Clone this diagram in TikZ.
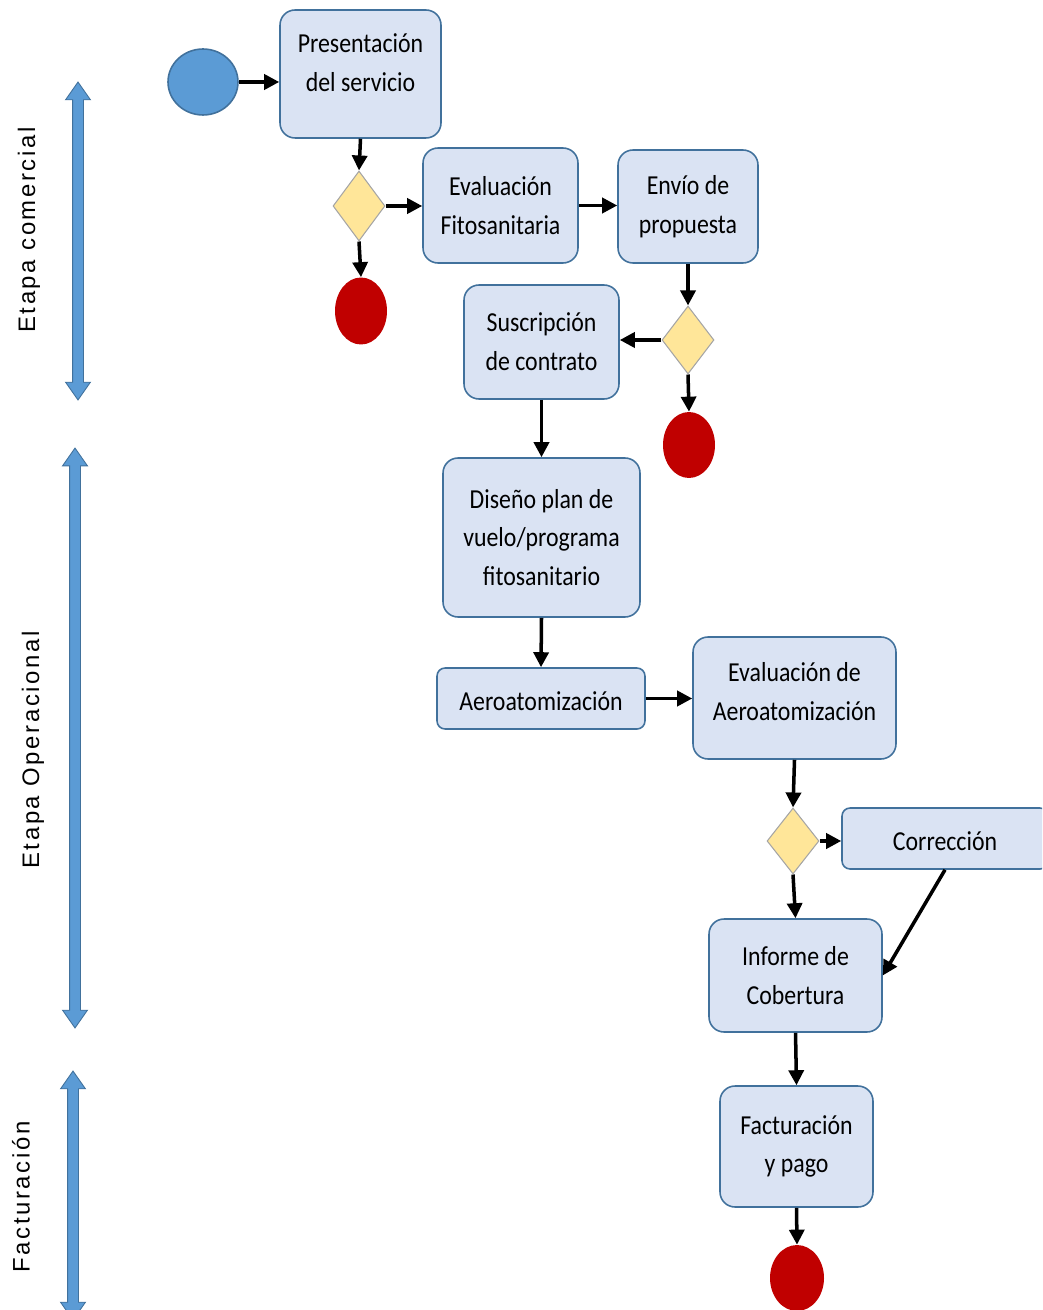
\documentclass[tikz,border=0pt]{standalone}
\usepackage{fontspec}
\setmainfont{Carlito}
\newfontfamily\boxfont[FakeStretch=0.87]{Carlito}
\newfontfamily\phasefont[LetterSpace=11]{Liberation Sans}
\usetikzlibrary{arrows.meta, shapes.geometric, shapes.arrows}

\definecolor{boxfill}{HTML}{DAE3F3}
\definecolor{boxline}{HTML}{41719C}
\definecolor{startblue}{HTML}{5B9BD5}
\definecolor{decfill}{HTML}{FFE699}
\definecolor{decline}{HTML}{A5A5A5}
\definecolor{stopred}{HTML}{C00000}

\begin{document}
\begin{tikzpicture}[
  x=0.02cm, y=-0.02cm,
  task/.style={draw=boxline, fill=boxfill, line width=0.9pt, rounded corners=0.3cm,
               font=\boxfont\fontsize{15.6}{22}\selectfont, align=center, inner sep=0pt},
  flat/.style={task, rounded corners=0.16cm},
  decision/.style={diamond, draw=decline, fill=decfill, line width=0.6pt, inner sep=0pt,
                   minimum width=1.04cm, minimum height=1.36cm},
  endnode/.style={ellipse, fill=stopred, inner sep=0pt, minimum width=1.04cm, minimum height=1.34cm},
  arr/.style={-{Triangle[length=0.3cm, width=0.3cm]}, line width=2pt},
  phase/.style={double arrow, fill=startblue, draw=boxline, line width=0.5pt, rotate=90,
                minimum width=0.48cm, double arrow head extend=0.14cm,
                double arrow tip angle=70, inner sep=0.1cm},
  phaselbl/.style={rotate=90, font=\phasefont\fontsize{13.6}{16}\selectfont}
]
\useasboundingbox (0,0) rectangle (1042,1310);
\clip (0,0) rectangle (1042,1310);

%
%  Layout (pixel grid, y downwards):
%
%  left  : three phase arrows with their labels
%  right : flow from the start circle down to the last end circle
%

% --- Phases ---
\node[phase, minimum height=6.36cm] (ph_com) at (78, 241) {};
\node[phaselbl] (lbl_com) at (29, 230) {Etapa comercial};
\node[phase, minimum height=11.6cm] (ph_op) at (75, 738) {};
\node[phaselbl] (lbl_op) at (33, 750) {Etapa Operacional};
\node[phase, minimum height=4.98cm] (ph_fac) at (73, 1195.5) {};
\node[phaselbl] (lbl_fac) at (21, 1197) {Facturación};

% --- Etapa comercial ---
\node[ellipse, draw=boxline, fill=startblue, line width=0.9pt, inner sep=0pt,
      minimum width=1.4cm, minimum height=1.32cm] (start) at (203, 82) {};
\node[task, minimum width=3.22cm, minimum height=2.56cm, text depth=0.45cm] (present)
      at (360.5, 74) {Presentación\\del servicio};
\node[decision, minimum height=1.4cm] (dec1) at (359, 206) {};
\node[endnode] (stop1) at (361, 311) {};
\node[task, minimum width=3.1cm, minimum height=2.3cm] (evalfito) at (500.5, 205.5)
      {Evaluación\\Fitosanitaria};
\node[task, minimum width=2.8cm, minimum height=2.26cm] (envio) at (688, 206.5)
      {Envío de\\propuesta};
\node[decision] (dec2) at (688, 340) {};
\node[endnode, minimum height=1.32cm] (stop2) at (689, 445) {};
\node[task, minimum width=3.1cm, minimum height=2.28cm] (suscrip) at (541.5, 342)
      {Suscripción\\de contrato};

% --- Etapa Operacional ---
\node[task, minimum width=3.94cm, minimum height=3.18cm] (diseno) at (541.5, 537.5)
      {Diseño plan de\\vuelo/programa\\fitosanitario};
\node[flat, minimum width=4.16cm, minimum height=1.22cm, text height=0.5cm] (aero)
      at (541, 698.5) {Aeroatomización};
\node[task, minimum width=4.06cm, minimum height=2.44cm, text depth=0.25cm] (evalaero)
      at (794.5, 698) {Evaluación de\\Aeroatomización};
\node[decision, minimum height=1.32cm] (dec3) at (793, 841) {};
\node[flat, minimum width=4.12cm, minimum height=1.22cm, text height=0.5cm] (correc)
      at (945, 838.5) {Corrección};
\node[task, minimum width=3.46cm, minimum height=2.26cm] (informe) at (795.5, 975.5)
      {Informe de\\Cobertura};

% --- Facturación ---
\node[task, minimum width=3.06cm, minimum height=2.42cm] (factur) at (796.5, 1146.5)
      {Facturación\\y pago};
\node[endnode, minimum width=1.08cm, minimum height=1.32cm] (stop3) at (797, 1278) {};

% ---- Connections ----
\draw[arr] (start.east) -- (start.east -| present.west);
\draw[arr] (present.south) -- (dec1.north);
\draw[arr] (dec1.east) -- (dec1.east -| evalfito.west);
\draw[arr] (dec1.south) -- (stop1.north);
\draw[arr] (evalfito.east) -- (evalfito.east -| envio.west);
\draw[arr] (envio.south) -- (dec2.north);
\draw[arr] (dec2.west) -- (dec2.west -| suscrip.east);
\draw[arr] (dec2.south) -- (stop2.north);
\draw[arr] (suscrip.south) -- (diseno.north);
\draw[arr] (diseno.south) -- (aero.north);
\draw[arr] (aero.east) -- (aero.east -| evalaero.west);
\draw[arr] (evalaero.south) -- (dec3.north);
\draw[arr] (dec3.east) -- (dec3.east -| correc.west);
\draw[arr] (dec3.south) -- (informe.north);
\draw[arr] (correc.south) -- (informe.east);
\draw[arr] (informe.south) -- (factur.north);
\draw[arr] (factur.south) -- (stop3.north);

\end{tikzpicture}
\end{document}
